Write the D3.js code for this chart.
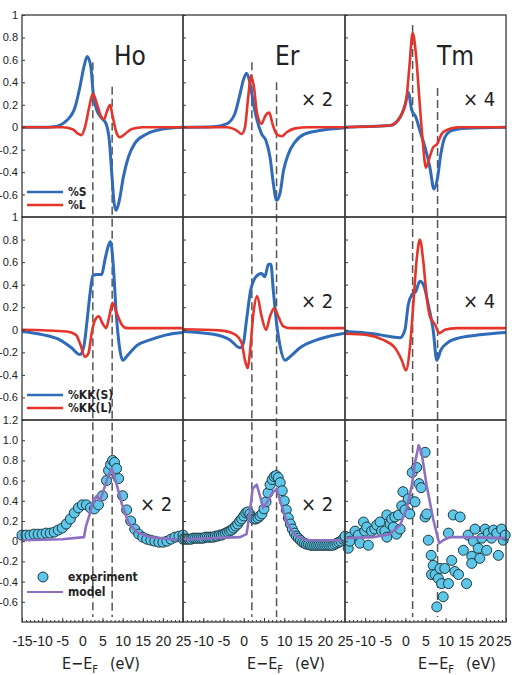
<!DOCTYPE html>
<html>
<head>
<meta charset="utf-8">
<script src="https://cdn.jsdelivr.net/npm/d3@7"></script>
<style>
  body { margin: 0; background: #fff; }
  svg { display: block; font-family: "Liberation Sans Narrow", "DejaVu Sans Condensed", "Liberation Sans", Arial, sans-serif; }
</style>
</head>
<body>
<div id="chart"></div>
<script>
// ---- data ----
const elements = ["Ho", "Er", "Tm"];
const xTicks = [-15, -10, -5, 0, 5, 10, 15, 20, 25];
const yTicksTop = [1, 0.8, 0.6, 0.4, 0.2, 0, -0.2, -0.4, -0.6];
const yTicksBottom = [1.2, 1.0, 0.8, 0.6, 0.4, 0.2, 0, -0.2, -0.4, -0.6];
const multipliers = [["", "2", "4"], ["", "2", "4"], ["2", "2", ""]];

// dashed guide lines: energies and start value (top row units)
const dashEnergies = [[2.6, 7.4], [2.0, 8.1], [1.8, 8.0]];
const dashStarts = [[0.58, 0.36], [0.58, 0.40], [0.91, 0.35]];

// row 1: %S / %L
const hoS = [[-15,0],[-10,0],[-7,0.005],[-5.5,0.02],[-3.9,0.06],[-1.8,0.18],[-0.6,0.36],[0.4,0.54],[1.2,0.63],[2.1,0.54],[2.7,0.30],[3.6,0.15],[4.8,0.08],[5.9,0.03],[6.7,-0.12],[7.3,-0.41],[7.9,-0.68],[8.4,-0.74],[9.2,-0.65],[10.2,-0.44],[11.4,-0.27],[13.1,-0.14],[16,-0.06],[20,-0.015],[25,0]];
const hoL = [[-15,0],[-5,0],[-2.3,-0.02],[-1.0,-0.06],[-0.2,-0.07],[0.65,0],[1.7,0.18],[2.6,0.30],[3.6,0.21],[4.6,0.10],[5.4,0.07],[6.0,0.13],[6.9,0.20],[7.5,0.10],[8.4,-0.04],[9.3,-0.09],[10.6,-0.06],[12.3,-0.015],[15,0],[25,0]];
const erS = [[-15,0],[-7.5,0.005],[-4.2,0.03],[-2.2,0.12],[-0.9,0.30],[-0.1,0.42],[0.7,0.48],[1.5,0.40],[2.4,0.21],[3.3,0.06],[4.4,-0.06],[5.5,-0.12],[6.5,-0.27],[7.3,-0.50],[8.1,-0.65],[9.0,-0.58],[9.8,-0.39],[11.0,-0.24],[12.7,-0.13],[15.1,-0.06],[18.8,-0.03],[25,-0.005]];
const erL = [[-15,0],[-4.2,0],[-1.7,-0.03],[-0.5,-0.06],[0.3,0],[1.1,0.27],[1.8,0.46],[2.5,0.36],[3.3,0.12],[4.4,0.03],[5.3,0.10],[6.3,0.13],[7.1,0.03],[8.1,-0.06],[9.4,-0.08],[10.6,-0.045],[12.7,-0.01],[16,0],[25,0]];
const tmS = [[-15,0],[-3.8,0.015],[-1.3,0.09],[0,0.21],[0.7,0.31],[1.6,0.15],[2.6,0.09],[3.6,-0.03],[4.9,-0.18],[6.1,-0.36],[7.1,-0.55],[8.0,-0.45],[8.8,-0.24],[9.8,-0.09],[11.5,-0.03],[15.2,-0.01],[25,0]];
const tmL = [[-15,0],[-3.8,0.015],[-1.3,0.09],[0.2,0.24],[1.0,0.54],[1.8,0.84],[2.6,0.66],[3.5,0.24],[4.3,-0.12],[5.1,-0.36],[6.0,-0.27],[6.9,-0.18],[7.9,-0.15],[9.0,-0.06],[10.3,-0.025],[13,0],[25,0]];

// row 2: %KK(S) / %KK(L)
const hoKS = [[-15,-0.015],[-9.7,-0.045],[-5.6,-0.09],[-2.7,-0.16],[-0.6,-0.22],[0.4,-0.14],[1.2,0.09],[1.9,0.32],[2.6,0.48],[3.6,0.49],[4.8,0.49],[5.6,0.62],[6.5,0.75],[7.0,0.78],[7.7,0.56],[8.4,0.15],[9.2,-0.15],[10.0,-0.27],[11.4,-0.22],[13.5,-0.14],[16.8,-0.09],[20.9,-0.045],[25,-0.025]];
const hoKL = [[-15,0],[-3.9,-0.015],[-1.6,-0.045],[-0.6,-0.12],[0.65,-0.24],[1.5,-0.21],[2.3,-0.03],[3.2,0.09],[4.1,0.12],[4.95,0.06],[5.9,0.015],[6.7,0.12],[7.5,0.24],[8.5,0.15],[9.8,0.045],[11.0,0.015],[25,0.015]];
const erKS = [[-15,-0.015],[-7.5,-0.04],[-3.4,-0.09],[-0.9,-0.16],[-0.1,-0.12],[0.7,0.09],[1.7,0.35],[2.5,0.44],[3.6,0.49],[4.4,0.50],[5.2,0.47],[6.1,0.58],[6.7,0.58],[7.3,0.35],[8.1,0.06],[9.0,-0.15],[10.2,-0.27],[11.4,-0.24],[13.9,-0.16],[18.0,-0.09],[25,-0.03]];
const erKL = [[-15,0.005],[-5.9,-0.005],[-2.2,-0.04],[-0.5,-0.12],[0.3,-0.27],[1.0,-0.34],[1.5,-0.21],[2.4,0.15],[3.3,0.30],[4.4,0.12],[5.5,0],[6.5,0.12],[7.5,0.19],[8.5,0.12],[9.8,0.03],[11.4,0.015],[25,0.015]];
const tmKS = [[-15,-0.015],[-8,-0.035],[-3.8,-0.06],[-1.3,-0.07],[-0.1,0],[0.7,0.22],[1.6,0.31],[2.6,0.34],[3.6,0.43],[4.6,0.39],[5.7,0.22],[6.9,0],[7.8,-0.27],[8.8,-0.18],[10.3,-0.12],[13.6,-0.07],[18.5,-0.045],[25,-0.025]];
const tmKL = [[-15,-0.035],[-9.6,-0.045],[-5.5,-0.09],[-2.6,-0.16],[-0.9,-0.27],[0.15,-0.36],[1.15,-0.15],[2.0,0.24],[2.8,0.62],[3.6,0.80],[4.5,0.59],[5.3,0.29],[6.1,0.12],[7.4,0.045],[8.4,-0.03],[9.8,0],[12.7,0.015],[25,0.015]];

// row 3: experiment / model
const hoExp = [[-15,0.06],[-14,0.06],[-13,0.06],[-12,0.07],[-11,0.07],[-10,0.07],[-9,0.08],[-8,0.08],[-7,0.09],[-6,0.11],[-5,0.13],[-4,0.17],[-3,0.22],[-2,0.28],[-1,0.33],[0,0.36],[1,0.36],[2,0.33],[3,0.32],[4,0.36],[5,0.45],[6,0.60],[6.5,0.70],[7,0.76],[7.5,0.80],[8,0.78],[8.5,0.72],[9,0.62],[10,0.45],[11,0.31],[12,0.20],[13,0.12],[14,0.07],[15,0.04],[16,0.02],[17,0.01],[18,0.0],[19,-0.01],[20,-0.01],[21,0.0],[22,0.02],[23,0.04],[24,0.05],[25,0.06]];
const hoModel = [[-15,0.01],[-5,0.02],[0.4,0.04],[0.9,0.15],[1.7,0.25],[2.7,0.40],[3.6,0.45],[4.4,0.40],[5.4,0.52],[6.4,0.65],[7.3,0.72],[8.6,0.55],[9.8,0.37],[11.4,0.19],[13.5,0.09],[16.8,0.04],[25,0.01]];
const erExp = [[-15,0.02],[-14.5,0.02],[-14,0.02],[-13.5,0.02],[-13,0.02],[-12.5,0.03],[-12,0.03],[-11.5,0.03],[-11,0.03],[-10.5,0.03],[-10,0.03],[-9.5,0.04],[-9,0.04],[-8.5,0.04],[-8,0.04],[-7.5,0.04],[-7,0.05],[-6.5,0.05],[-6,0.06],[-5.5,0.06],[-5,0.07],[-4.5,0.08],[-4,0.09],[-3.5,0.10],[-3,0.11],[-2.5,0.13],[-2,0.15],[-1.5,0.17],[-1,0.20],[-0.5,0.22],[0,0.25],[0.5,0.28],[1,0.29],[1.5,0.27],[2,0.24],[2.5,0.22],[3,0.22],[3.5,0.23],[4,0.25],[4.5,0.27],[5,0.32],[5.5,0.39],[6,0.48],[6.5,0.56],[7,0.61],[7.5,0.64],[8,0.65],[8.5,0.63],[9,0.58],[9.5,0.50],[10,0.40],[10.5,0.31],[11,0.23],[11.5,0.17],[12,0.12],[12.5,0.08],[13,0.05],[13.5,0.03],[14,0.01],[14.5,-0.01],[15,-0.02],[15.5,-0.03],[16,-0.03],[16.5,-0.04],[17,-0.04],[17.5,-0.04],[18,-0.04],[18.5,-0.04],[19,-0.04],[19.5,-0.04],[20,-0.04],[20.5,-0.04],[21,-0.04],[21.5,-0.04],[22,-0.04],[22.5,-0.03],[23,-0.02],[23.5,-0.01],[24,0.0],[24.5,0.02],[25,0.03]];
const erModel = [[-15,0.02],[-0.9,0.04],[0.7,0.07],[1.5,0.29],[2.2,0.52],[3.2,0.56],[4.0,0.45],[4.8,0.33],[5.8,0.39],[6.9,0.47],[8.1,0.52],[9.0,0.40],[10.6,0.19],[12.7,0.06],[15.5,0.01],[25,0.01]];
const tmExp = [[-15,0.05],[-14.2,-0.07],[-13.8,0.04],[-13.8,0.0],[-12.5,0.10],[-11.7,0.06],[-11.3,-0.02],[-10.4,0.19],[-10.1,0.10],[-9.6,0.14],[-9.2,-0.04],[-8.4,0.10],[-7.6,0.12],[-7.1,0.16],[-6.3,0.19],[-5.9,0.10],[-5.1,0.10],[-4.6,0.26],[-4.6,0.04],[-3.8,0.17],[-3.4,0.22],[-3.0,0.14],[-2.6,0.24],[-2.2,0.07],[-1.7,0.26],[-1.3,0.12],[-0.9,0.35],[-0.6,0.49],[-0.1,0.31],[0.7,0.42],[1.1,0.27],[1.7,0.68],[2.4,0.39],[2.8,0.73],[3.4,0.57],[3.9,0.53],[4.9,0.88],[4.9,0.24],[5.3,0.27],[5.7,0.01],[6.4,-0.14],[6.9,-0.24],[6.5,-0.33],[7.4,-0.33],[7.8,-0.65],[8.2,-0.37],[8.6,-0.27],[9.0,-0.42],[9.4,-0.55],[9.8,-0.27],[10.7,0.08],[10.7,-0.42],[11.5,-0.19],[11.9,0.26],[12.3,-0.30],[13.2,-0.33],[13.6,0.24],[14.4,-0.09],[15.2,-0.42],[15.6,0.06],[16.5,-0.15],[16.5,-0.22],[16.9,0.00],[17.3,0.12],[18.1,-0.07],[18.5,-0.17],[19.0,0.03],[19.8,0.12],[20.2,-0.09],[20.6,0.08],[21.4,0.03],[21.9,0.11],[22.7,0.08],[23.1,-0.14],[23.9,0.12],[24.3,0.01],[24.8,0.06]];
const tmModel = [[-15,0.03],[-8,0.04],[-3.8,0.07],[-1.3,0.16],[0.3,0.32],[1.6,0.55],[2.4,0.78],[3.3,0.95],[4.0,0.88],[5.3,0.55],[6.9,0.22],[8.4,-0.02],[9.4,0.01],[11.1,0.04],[15.2,0.04],[25,0.03]];

// ---- layout ----
const W = 512, H = 675;
const cols = [22, 183, 345, 506];
const rows = [15, 217, 420, 622];
const rowDomains = [[-0.8, 1], [-0.8, 1], [-0.8, 1.2]];

const blue = "#2f6bb8", red = "#e5352b", purple = "#8d70c2", cyan = "#5ec6e8";

const svg = d3.select("#chart").append("svg")
    .attr("width", W)
    .attr("height", H);

const xScales = elements.map((e, i) => d3.scaleLinear().domain([-15, 25]).range([cols[i], cols[i + 1]]));
const yScales = rowDomains.map((d, j) => d3.scaleLinear().domain(d).range([rows[j + 1], rows[j]]));

const defs = svg.append("defs");
elements.forEach((e, i) => {
    rowDomains.forEach((d, j) => {
        defs.append("clipPath").attr("id", `clip-${j}-${i}`)
            .append("rect")
            .attr("x", cols[i]).attr("y", rows[j])
            .attr("width", cols[i + 1] - cols[i]).attr("height", rows[j + 1] - rows[j]);
    });
});

// dashed guides behind everything
elements.forEach((e, i) => {
    dashEnergies[i].forEach((en, k) => {
        svg.append("line")
            .attr("x1", xScales[i](en)).attr("x2", xScales[i](en))
            .attr("y1", yScales[0](dashStarts[i][k]))
            .attr("y2", rows[3] - 5)
            .attr("stroke", "#555")
            .attr("stroke-width", 1.5)
            .attr("stroke-dasharray", "8,4");
    });
});

const panels = [
    [[hoS, hoL], [erS, erL], [tmS, tmL]],
    [[hoKS, hoKL], [erKS, erKL], [tmKS, tmKL]]
];

panels.forEach((row, j) => {
    row.forEach((pair, i) => {
        const line = d3.line()
            .x(d => xScales[i](d[0]))
            .y(d => yScales[j](d[1]))
            .curve(d3.curveMonotoneX);
        const g = svg.append("g").attr("clip-path", `url(#clip-${j}-${i})`);
        g.append("path").datum(pair[0])
            .attr("fill", "none").attr("stroke", blue).attr("stroke-width", 3)
            .attr("d", line);
        g.append("path").datum(pair[1])
            .attr("fill", "none").attr("stroke", red).attr("stroke-width", 2.6)
            .attr("d", line);
    });
});

// bottom row: experiment circles + model
const expSets = [hoExp, erExp, tmExp];
const modelSets = [hoModel, erModel, tmModel];
elements.forEach((e, i) => {
    const x = xScales[i], y = yScales[2];
    svg.append("g")
        .selectAll("circle")
        .data(expSets[i])
        .join("circle")
        .attr("cx", d => x(d[0]))
        .attr("cy", d => y(d[1]))
        .attr("r", 5)
        .attr("fill", cyan)
        .attr("stroke", "#1d3a40")
        .attr("stroke-width", 1);
    const line = d3.line().x(d => x(d[0])).y(d => y(d[1]));
    svg.append("g").attr("clip-path", `url(#clip-2-${i})`)
        .append("path").datum(modelSets[i])
        .attr("fill", "none").attr("stroke", purple).attr("stroke-width", 2.6)
        .attr("stroke-linejoin", "round")
        .attr("d", line);
});

// frames
elements.forEach((e, i) => {
    rowDomains.forEach((d, j) => {
        svg.append("rect")
            .attr("x", cols[i]).attr("y", rows[j])
            .attr("width", cols[i + 1] - cols[i]).attr("height", rows[j + 1] - rows[j])
            .attr("fill", "none").attr("stroke", "#3a3a3a").attr("stroke-width", 1.3);
    });
});

// y axes (ticks point inward, labels only in the first column)
const fmtTop = d => String(d);
const fmtBottom = d => d === 0 ? "0" : d.toFixed(1);
rowDomains.forEach((d, j) => {
    elements.forEach((e, i) => {
        const ax = d3.axisLeft(yScales[j])
            .tickValues(j === 2 ? yTicksBottom : yTicksTop)
            .tickSize(-3)
            .tickPadding(4)
            .tickFormat(i === 0 ? (j === 2 ? fmtBottom : fmtTop) : "");
        const g = svg.append("g").attr("transform", `translate(${cols[i]},0)`).call(ax);
        g.select(".domain").remove();
        g.selectAll("line").attr("stroke", "#3a3a3a");
        g.selectAll("text").attr("font-size", 11).attr("fill", "#222")
            .attr("font-family", null);
    });
});

// x axes at bottom
const minorTicks = d3.range(-15, 26, 1);
elements.forEach((e, i) => {
    const gMinor = svg.append("g").attr("transform", `translate(0,${rows[3]})`)
        .call(d3.axisBottom(xScales[i]).tickValues(minorTicks).tickSize(-2).tickFormat(""));
    gMinor.select(".domain").remove();
    gMinor.selectAll("line").attr("stroke", "#3a3a3a");
    const g = svg.append("g").attr("transform", `translate(0,${rows[3]})`)
        .call(d3.axisBottom(xScales[i])
            .tickValues(i === 0 ? xTicks : xTicks.slice(1))
            .tickSize(-4)
            .tickPadding(14)
            .tickFormat(d => String(d)));
    g.select(".domain").remove();
    g.selectAll("line").attr("stroke", "#3a3a3a");
    g.selectAll("text").attr("font-size", 14).attr("fill", "#222").attr("font-family", null);
    // keep the last label inside the picture
    if (i === elements.length - 1) {
        g.selectAll("text").filter(d => d === 25)
            .attr("text-anchor", "end").attr("x", 5);
    }
});

// x axis titles
const titleStarts = [40, 64, 73];
elements.forEach((e, i) => {
    const t = svg.append("text")
        .attr("x", cols[i] + titleStarts[i])
        .attr("y", 669)
        .attr("font-size", 16)
        .attr("fill", "#222");
    t.append("tspan").text("E\u2212E");
    t.append("tspan").attr("font-size", 11).attr("dy", 4).text("F");
    t.append("tspan").attr("dy", -4).attr("dx", 12).text("(eV)");
});

// element labels and multipliers
elements.forEach((e, i) => {
    svg.append("text")
        .attr("x", cols[i] + 92).attr("y", rows[0] + 50)
        .attr("font-size", 26).attr("fill", "#222")
        .text(e);
});
multipliers.forEach((row, j) => {
    row.forEach((m, i) => {
        if (!m) return;
        svg.append("text")
            .attr("x", cols[i] + 118).attr("y", rows[j] + 91)
            .attr("font-size", 20).attr("fill", "#222")
            .text("\u00d7 " + m);
    });
});

// legends
const legendX = cols[0];
const legends = [
    [{ label: "%S", color: blue, dy: 177 }, { label: "%L", color: red, dy: 190 }],
    [{ label: "%KK(S)", color: blue, dy: 178 }, { label: "%KK(L)", color: red, dy: 191 }]
];
legends.forEach((items, j) => {
    items.forEach(it => {
        const yy = rows[j] + it.dy;
        svg.append("line")
            .attr("x1", legendX + 5).attr("x2", legendX + 41)
            .attr("y1", yy).attr("y2", yy)
            .attr("stroke", it.color).attr("stroke-width", 2.5);
        svg.append("text")
            .attr("x", legendX + 46).attr("y", yy + 4)
            .attr("font-size", 12).attr("font-weight", "bold").attr("fill", "#222")
            .text(it.label);
    });
});
const ly = rows[2];
svg.append("circle")
    .attr("cx", legendX + 21).attr("cy", ly + 157).attr("r", 5)
    .attr("fill", cyan).attr("stroke", "#1d3a40").attr("stroke-width", 1);
svg.append("text")
    .attr("x", legendX + 46).attr("y", ly + 161)
    .attr("font-size", 12).attr("font-weight", "bold").attr("fill", "#222")
    .text("experiment");
svg.append("line")
    .attr("x1", legendX + 5).attr("x2", legendX + 41)
    .attr("y1", ly + 172).attr("y2", ly + 172)
    .attr("stroke", purple).attr("stroke-width", 2);
svg.append("text")
    .attr("x", legendX + 46).attr("y", ly + 176)
    .attr("font-size", 12).attr("font-weight", "bold").attr("fill", "#222")
    .text("model");
</script>
</body>
</html>
